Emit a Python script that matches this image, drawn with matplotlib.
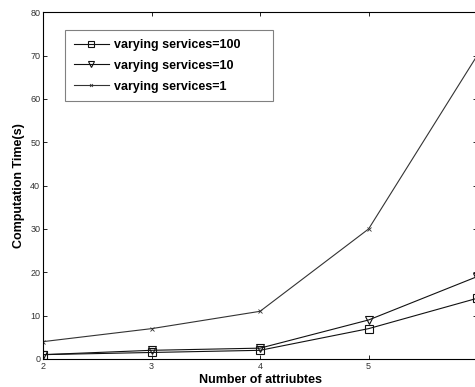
import matplotlib.pyplot as plt

# number of attributes and computation times per service count
attributes = [2, 3, 4, 5, 6]
tick_labels = ['2', '3', '4', '5', '']
time_100 = [1, 1.5, 2, 7, 14]
time_10 = [1, 2, 2.5, 9, 19]
time_1 = [4, 7, 11, 30, 70]

plt.rcParams['font.family'] = ['Liberation Sans', 'DejaVu Sans']

fig = plt.figure(figsize=(4.75, 3.87), dpi=100)
ax = fig.add_axes([0.0905, 0.0724, 0.914, 0.896])

ax.plot(attributes, time_100, '-', color='#111111', marker='s', mfc='none',
        ms=6, mew=0.8, linewidth=0.8, label='varying services=100')
ax.plot(attributes, time_10, '-', color='#111111', marker='v', mfc='none',
        ms=6, mew=0.8, linewidth=0.8, label='varying services=10')
ax.plot(attributes, time_1, '-', color='#333333', marker='x', ms=3, mew=0.6,
        linewidth=0.8, label='varying services=1')

ax.set_xlim(2, 6)
ax.set_ylim(0, 80)
ax.set_xticks(attributes)
ax.set_xticklabels(tick_labels)
ax.set_yticks(range(0, 81, 10))
ax.tick_params(direction='in', top=True, right=True, labelsize=6.5,
               length=3, width=0.6, pad=2, labelcolor='#333333')
for s in ax.spines.values():
    s.set_linewidth(0.8)

ax.set_xlabel('Number of attriubtes', fontsize=9, fontweight='bold', labelpad=2)
ax.set_ylabel('Computation Time(s)', fontsize=9, fontweight='bold', labelpad=4)

# legend box stretched to a fixed width
leg = ax.legend(loc='upper left', bbox_to_anchor=(0.051, 0.948, 0.479, 0.0),
                mode='expand', prop={'weight': 'bold', 'size': 9},
                fancybox=False, edgecolor='gray', framealpha=1,
                handlelength=2.8, handletextpad=0.4, labelspacing=0.7,
                borderpad=0.7, borderaxespad=0, markerscale=0.7)
leg.get_frame().set_linewidth(0.8)

fig.savefig('out.png', dpi=100)
